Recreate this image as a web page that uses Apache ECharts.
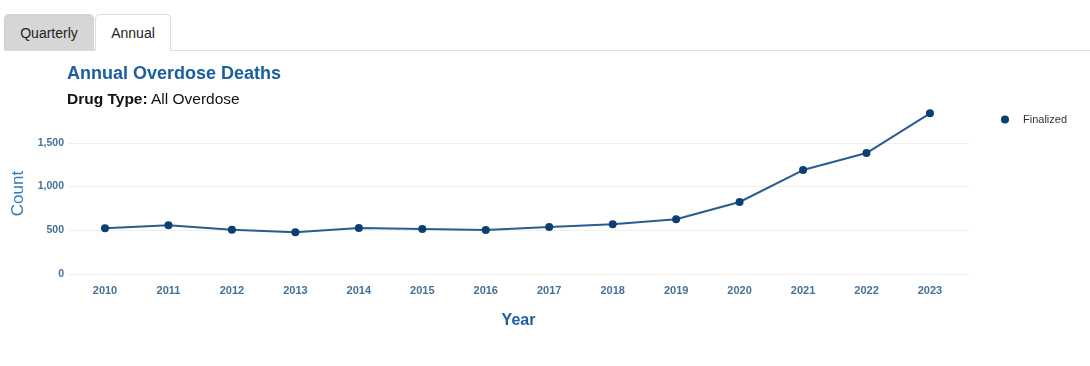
<!DOCTYPE html>
<html>
<head>
<meta charset="utf-8">
<script src="https://cdn.jsdelivr.net/npm/echarts@6/dist/echarts.min.js"></script>
<style>
  html, body { margin: 0; padding: 0; background: #fff; width: 1090px; height: 366px; overflow: hidden; font-family: "Liberation Sans", Arial, sans-serif; }
  #chart { position: absolute; left: 0; top: 0; width: 1090px; height: 366px; }
  .tabline { position: absolute; left: 4px; top: 50px; width: 1086px; height: 1px; background: #dcdcdc; }
  .tab { position: absolute; top: 14px; height: 36px; box-sizing: border-box; font-size: 14px; color: #222; line-height: 36px; text-align: center; border-radius: 5px 5px 0 0; }
  .tab.q { left: 4px; width: 90px; background: #d6d6d6; border: 1px solid #cfcfcf; border-bottom: none; }
  .tab.a { left: 95px; width: 76px; height: 37px; background: #fff; border: 1px solid #dcdcdc; border-bottom: none; z-index: 2; }
</style>
</head>
<body>
<div id="chart"></div>
<div class="tabline"></div>
<div class="tab q">Quarterly</div>
<div class="tab a">Annual</div>
<script>
const years = [2010, 2011, 2012, 2013, 2014, 2015, 2016, 2017, 2018, 2019, 2020, 2021, 2022, 2023];
const finalized = [522, 556, 506, 476, 525, 514, 503, 537, 568, 625, 823, 1188, 1382, 1836];
const yTicks = [0, 500, 1000, 1500];
const seriesName = 'Finalized';

const chart = echarts.init(document.getElementById('chart'), null, { renderer: 'canvas' });
const labelColor = '#46709c';
const grid = '#efefef';

chart.setOption({
  animation: false,
  textStyle: { fontFamily: 'Liberation Sans, Arial, sans-serif' },
  title: {
    text: 'Annual Overdose Deaths',
    subtext: '{b|Drug Type:} {n|All Overdose}',
    left: 62, top: 60,
    itemGap: 9,
    textStyle: { fontSize: 18, fontWeight: 'bold', color: '#1b5fa0', fontFamily: 'Liberation Sans, Arial, sans-serif' },
    subtextStyle: {
      rich: {
        b: { fontSize: 15.5, fontWeight: 'bold', color: '#111', fontFamily: 'Liberation Sans, Arial, sans-serif' },
        n: { fontSize: 15.5, color: '#111', fontFamily: 'Liberation Sans, Arial, sans-serif' }
      }
    }
  },
  legend: {
    left: 996, top: 109,
    icon: 'circle', itemWidth: 8, itemHeight: 8, itemGap: 10,
    textStyle: { fontSize: 11, color: '#333', padding: [0, 0, 0, 9] },
    data: [seriesName]
  },
  grid: { left: 68, right: 121, top: 99, bottom: 92, containLabel: false },
  xAxis: {
    type: 'value',
    min: 2009.417, max: 2023.615,
    name: 'Year', nameLocation: 'middle', nameGap: 39,
    nameTextStyle: { fontSize: 16, fontWeight: 'bold', color: '#1b5fa0' },
    axisLine: { show: false }, axisTick: { show: false },
    splitLine: { show: false },
    axisLabel: {
      customValues: years,
      formatter: v => String(v),
      color: labelColor, fontSize: 11, fontWeight: 'bold', margin: 11
    }
  },
  yAxis: {
    type: 'value', min: 0, max: 2000, interval: 500,
    name: 'Count', nameLocation: 'middle', nameGap: 38,
    nameTextStyle: { fontSize: 17, color: '#2f7cbf', padding: [0, 14, 0, 0] },
    axisLine: { show: false }, axisTick: { show: false },
    axisLabel: {
      showMaxLabel: false,
      formatter: v => yTicks.indexOf(v) >= 0 ? v.toLocaleString('en-US') : '',
      color: labelColor, fontSize: 10.5, fontWeight: 'bold', margin: 4
    },
    splitLine: { show: true, lineStyle: { color: [grid, grid, grid, grid, 'rgba(0,0,0,0)'], width: 1 } }
  },
  series: [{
    name: seriesName,
    type: 'line',
    data: years.map((y, i) => [y, finalized[i]]),
    symbol: 'circle', symbolSize: 8,
    itemStyle: { color: '#0c3e74' },
    lineStyle: { color: '#2a5c90', width: 2 }
  }]
});
</script>
</body>
</html>
